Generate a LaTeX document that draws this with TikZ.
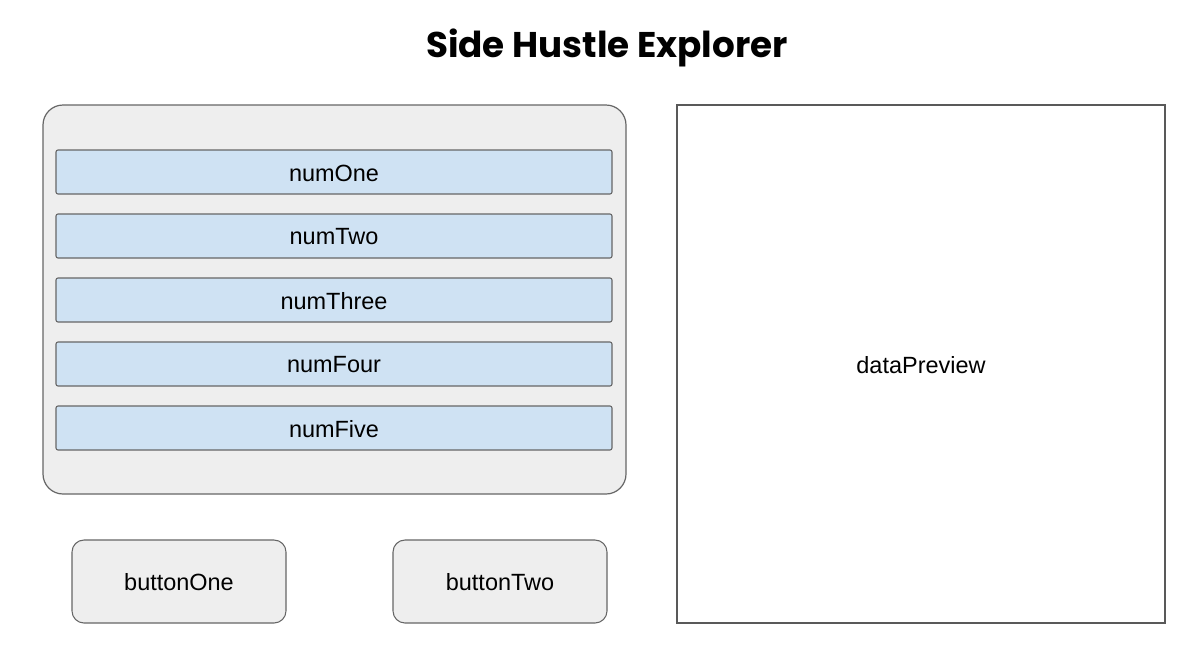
\documentclass[tikz,border=0pt]{standalone}
\usepackage{fontspec}
\setmainfont{Liberation Sans}
\newfontfamily\titlefont{Poppins}
\definecolor{boxgray}{HTML}{EEEEEE}
\definecolor{strokegray}{HTML}{666666}
\definecolor{fieldblue}{HTML}{CFE2F3}
\definecolor{darkstroke}{HTML}{595959}
\begin{document}
\begin{tikzpicture}[x=0.75pt,y=-0.75pt,
  container/.style={draw=strokegray,fill=boxgray,line width=0.9pt,rounded corners=15pt},
  field/.style={draw=strokegray,fill=fieldblue,line width=0.8pt,rounded corners=1.5pt},
  buttonbox/.style={draw=strokegray,fill=boxgray,line width=0.8pt,rounded corners=9pt},
  preview/.style={draw=darkstroke,fill=white,line width=1.6pt},
  lbl/.style={font=\fontsize{17.6}{20}\selectfont,text=black}]
\useasboundingbox (0,0) rectangle (1203,665);
\fill[white] (0,0) rectangle (1203,665);
\node[font=\titlefont\bfseries\fontsize{26.8}{30}\selectfont] (title) at (607,48) {Side Hustle Explorer};
\draw[container] (43,105) rectangle (626,494);
\coordinate (cont) at (334.5,299.5);
\foreach \n/\t/\y in {one/numOne/150,two/numTwo/214,three/numThree/278,four/numFour/342,five/numFive/406}{
  \draw[field] (56,\y) rectangle (612,\y+44);
  \node[lbl] (\n) at (334,\y+23) {\t};
}
\draw[buttonbox] (72,540) rectangle (286,623);
\node[lbl] (b1) at (179,582) {buttonOne};
\draw[buttonbox] (393,540) rectangle (607,623);
\node[lbl] (b2) at (500,582) {buttonTwo};
\draw[preview] (677,105) rectangle (1165,623);
\node[lbl] (dp) at (921,365) {dataPreview};
\end{tikzpicture}
\end{document}
